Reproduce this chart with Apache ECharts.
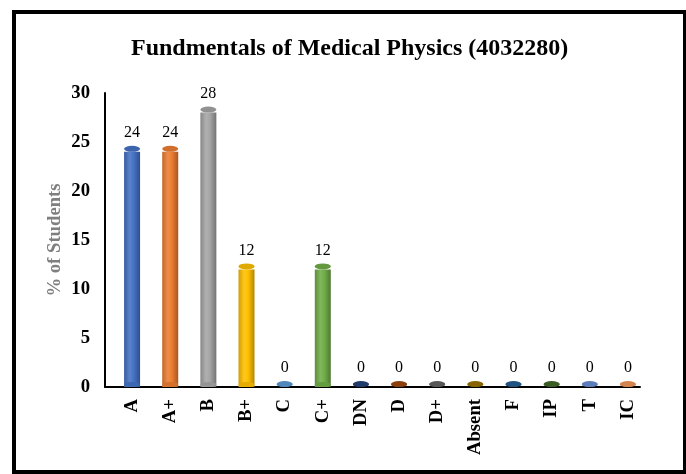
<!DOCTYPE html>
<html><head><meta charset="utf-8">
<script src="https://cdn.jsdelivr.net/npm/echarts@6/dist/echarts.min.js"></script>
<style>html,body{margin:0;padding:0;background:#fff}#c{width:686px;height:474px}</style>
</head><body><div id="c"></div>
<script>
var titleText = 'Fundmentals of Medical Physics (4032280)';
var yAxisName = '% of Students';
var categories = ['A','A+','B','B+','C','C+','DN','D','D+','Absent','F','IP','T','IC'];
var values = [24,24,28,12,0,12,0,0,0,0,0,0,0,0];
var colors = ['#4472C4','#ED7D31','#A5A5A5','#FFC000','#5B9BD5','#70AD47','#264478','#9E480E','#636363','#997300','#255E91','#43682B','#698ED0','#F1975A'];

function shade(hex, p){
  var n=parseInt(hex.slice(1),16),r=n>>16,g=(n>>8)&255,b=n&255;
  function f(c){return Math.max(0,Math.min(255,Math.round(p<0?c*(1+p):c+(255-c)*p)));}
  return 'rgb('+f(r)+','+f(g)+','+f(b)+')';
}
function cyl(c){
  return {type:'linear',x:0,y:0,x2:1,y2:0,colorStops:[
    {offset:0,color:shade(c,-0.18)},{offset:0.35,color:shade(c,0.12)},
    {offset:0.6,color:c},{offset:1,color:shade(c,-0.3)}]};
}
var serif = 'Liberation Serif';
var chart = echarts.init(document.getElementById('c'));
chart.setOption({
  backgroundColor:'#fff',
  animation:false,
  title:{text:titleText,left:126,top:32,textStyle:{fontFamily:serif,fontWeight:'bold',fontSize:24,color:'#000'}},
  graphic:[{type:'rect',shape:{x:14,y:12,width:671,height:460},style:{fill:'none',stroke:'#000',lineWidth:4},silent:true}],
  grid:[{left:113,right:39,top:93,bottom:87},{left:105,right:46,top:93,bottom:87}],
  xAxis:[
    {type:'category',gridIndex:0,data:categories,axisLine:{show:false},axisTick:{show:false},
     axisLabel:{rotate:90,margin:12,interval:0,fontFamily:serif,fontWeight:'bold',fontSize:18.7,color:'#000'}},
    {type:'value',gridIndex:1,min:0,max:1,show:true,axisLine:{show:true,lineStyle:{color:'#000',width:2}},axisTick:{show:false},axisLabel:{show:false},splitLine:{show:false}}
  ],
  yAxis:[
    {type:'value',gridIndex:0,min:0,max:30,interval:5,offset:8,
     axisLine:{show:true,lineStyle:{color:'#000',width:2}},axisTick:{show:false},splitLine:{show:false},
     axisLabel:{margin:15,fontFamily:serif,fontWeight:'bold',fontSize:18.7,color:'#000'},
     name:yAxisName,nameLocation:'middle',nameGap:40,nameMoveOverlap:false,
     nameTextStyle:{fontFamily:serif,fontWeight:'bold',fontSize:18.7,color:'#7F7F7F'}},
    {type:'value',gridIndex:1,show:false,min:0,max:1}
  ],
  series:[
    {type:'bar',xAxisIndex:0,yAxisIndex:0,barWidth:16,z:2,
     data:values.map(function(v,i){return {value:v,itemStyle:{color:cyl(colors[i])}};})},
    {type:'pictorialBar',xAxisIndex:0,yAxisIndex:0,symbol:'circle',symbolSize:[16,5],symbolPosition:'start',z:3,
     data:values.map(function(v,i){return {value:v,itemStyle:{color:shade(colors[i],-0.1)}};})},
    {type:'scatter',xAxisIndex:0,yAxisIndex:0,symbol:'circle',symbolSize:[16,6],symbolOffset:[0,-3],z:4,
     label:{show:true,position:'top',distance:5,fontFamily:serif,fontSize:16,color:'#000'},
     data:values.map(function(v,i){return {value:v,itemStyle:{color:shade(colors[i],-0.12),opacity:1}};})}
  ]
});
</script></body></html>
